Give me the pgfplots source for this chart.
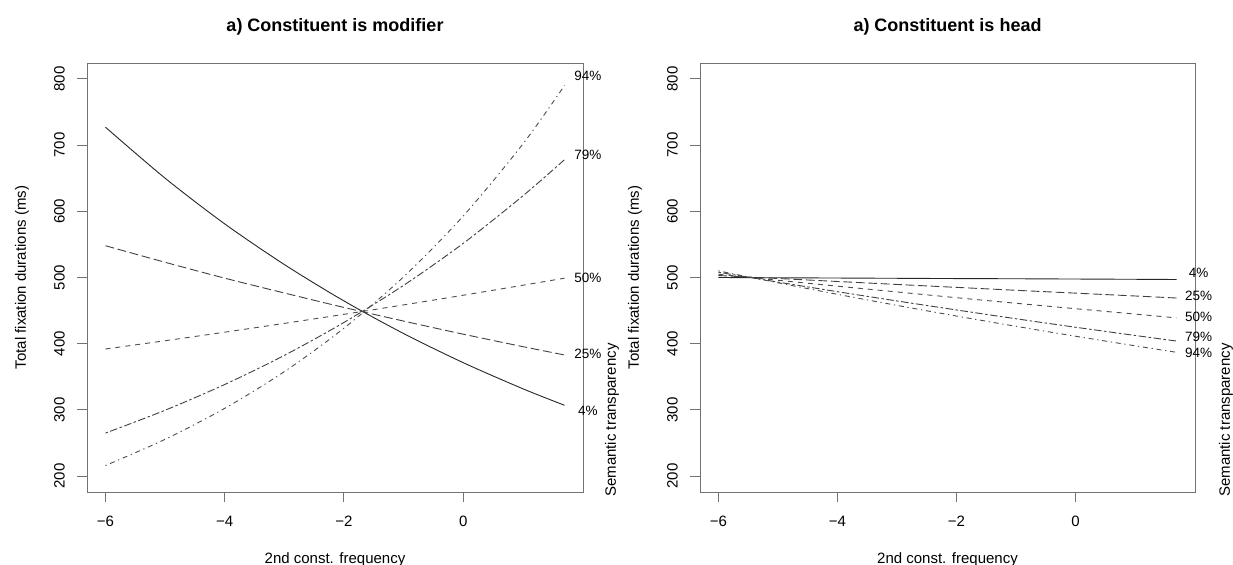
\documentclass[border=0pt]{standalone}
\usepackage{fontspec}
\setmainfont{Liberation Sans}
\usepackage{pgfplots}
\usepackage{pgfplotstable}
\pgfplotsset{compat=1.18}

\pgfplotstableread{
x    p04   p25   p50   p79   p94
-6   727   548   392   265   216
-5   650   523   404.5 299.5 255.6
-4   581   499   417.4 338.4 302.4
-3   519.6 476.6 430.7 382.4 357.8
-2   464.6 454.8 444.4 432.1 423.4
-1   415.4 434.2 458.6 488.1 501.0
0    371.4 414.4 473.2 551.5 592.8
1    332   395.6 488.3 623.2 701.5
1.7  307   383   499   678   790
}\leftdata

\pgfplotstableread{
x    p04   p25   p50   p79   p94
-6   500   503   505   508   510
-5   499.6 498.5 495.8 493.1 492.0
-4   499.2 494   486.9 478.6 474.6
-3   498.8 489.5 478.2 464.6 457.9
-2   498.4 485.1 469.5 451   441.8
-1   498.1 480.7 461.1 437.7 426.3
0    497.7 476.4 452.9 424.9 411.3
1    497.3 472.1 444.8 412.5 396.9
1.7  497   469   439   404   387
}\rightdata

\definecolor{boxgray}{gray}{0.45}
\tikzset{
  pct/.style={font=\fontsize{13.5bp}{16bp}\selectfont, inner sep=0pt, anchor=center},
  sem/.style={font=\fontsize{15bp}{18bp}\selectfont, rotate=90, anchor=west, inner sep=0pt},
}
\pgfplotsset{
  rpanel/.style={
    scale only axis, width=496bp, height=429bp, anchor=south west,
    xmin=-6.31, xmax=2.01, ymin=176, ymax=824,
    xtick={-6,-4,-2,0}, xticklabels={−6,−4,−2,0},
    ytick={200,300,400,500,600,700,800},
    yticklabels={200,300,400,500,600,700,800},
    tick align=outside, xtick pos=left, ytick pos=left,
    major tick length=10bp,
    every tick/.style={boxgray, line width=0.9bp},
    axis line style={boxgray, line width=0.9bp},
    clip=false,
    font=\fontsize{15bp}{18bp}\selectfont,
    xticklabel style={anchor=north, inner sep=0pt},
    xticklabel shift=14bp,
    yticklabel style={rotate=90, anchor=south, inner sep=0pt},
    yticklabel shift=12bp,
    xlabel={2nd const. frequency},
    xlabel style={at={(axis description cs:0.5,0)}, anchor=center, yshift=-68bp},
    ylabel={Total fixation durations (ms)},
    ylabel style={at={(axis description cs:0,0.5)}, anchor=center, inner sep=0pt, yshift=65bp},
    title style={at={(axis description cs:0.5,1)}, anchor=center, yshift=30bp,
      font=\fontsize{18bp}{21bp}\selectfont\bfseries},
  },
  l04/.style={black!85, line width=0.9bp, solid, smooth},
  l25/.style={black!75, line width=0.9bp, smooth, dash pattern=on 8.75bp off 3.75bp},
  l50/.style={black!70, line width=0.9bp, smooth, dash pattern=on 5bp off 5bp},
  l79/.style={black!75, line width=0.9bp, smooth, dash pattern=on 2.5bp off 2.5bp on 7.5bp off 2.5bp},
  l94/.style={black!70, line width=0.9bp, smooth, dash pattern=on 1.25bp off 3.75bp on 5bp off 3.75bp},
}

\begin{document}
\begin{tikzpicture}[x=1bp,y=1bp]
\useasboundingbox (0,-565) rectangle (1233,0);

\begin{axis}[rpanel, at={(87bp,-492bp)}, title={a) Constituent is modifier}]
\addplot[l04] table[x=x,y=p04] {\leftdata};
\addplot[l25] table[x=x,y=p25] {\leftdata};
\addplot[l50] table[x=x,y=p50] {\leftdata};
\addplot[l79] table[x=x,y=p79] {\leftdata};
\addplot[l94] table[x=x,y=p94] {\leftdata};
\node[pct] at (axis cs:2.09,805) {94\%};
\node[pct] at (axis cs:2.09,686) {79\%};
\node[pct] at (axis cs:2.09,499) {50\%};
\node[pct] at (axis cs:2.09,384) {25\%};
\node[pct] at (axis cs:2.09,298) {4\%};
\node[sem] at ([xshift=29bp, yshift=-5bp]rel axis cs:1,0) {Semantic transparency};
\end{axis}

\begin{axis}[rpanel, width=495bp, at={(700bp,-492bp)}, title={a) Constituent is head}]
\addplot[l04] table[x=x,y=p04] {\rightdata};
\addplot[l25] table[x=x,y=p25] {\rightdata};
\addplot[l50] table[x=x,y=p50] {\rightdata};
\addplot[l79] table[x=x,y=p79] {\rightdata};
\addplot[l94] table[x=x,y=p94] {\rightdata};
\node[pct] at (axis cs:2.07,507) {4\%};
\node[pct] at (axis cs:2.07,472) {25\%};
\node[pct] at (axis cs:2.07,440) {50\%};
\node[pct] at (axis cs:2.07,410) {79\%};
\node[pct] at (axis cs:2.07,386) {94\%};
\node[sem] at ([xshift=31bp, yshift=-5bp]rel axis cs:1,0) {Semantic transparency};
\end{axis}
\end{tikzpicture}
\end{document}
